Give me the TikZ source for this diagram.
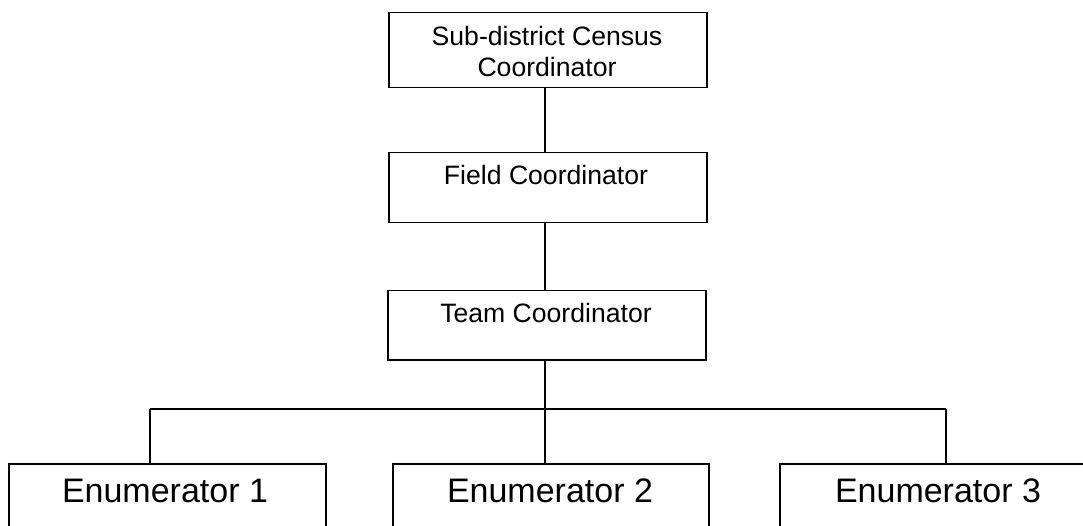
\documentclass[tikz,border=0pt]{standalone}
\usepackage{fontspec}
\setmainfont{Liberation Sans}
\begin{document}
\begin{tikzpicture}[x=1pt,y=-1pt,
  box/.style={draw=black, line width=1.5pt, rectangle, inner sep=0pt, anchor=north west},
  smalltxt/.style={anchor=base, inner sep=0pt, font=\fontsize{26.6}{31}\selectfont},
  bigtxt/.style={anchor=base, inner sep=0pt, font=\fontsize{34}{40}\selectfont},
  conn/.style={draw=black, line width=1.5pt}]
\useasboundingbox (0,0) rectangle (1083,526);
\clip (0,0) rectangle (1083,526);
% boxes
\node[box, minimum width=318pt, minimum height=75pt] (a) at (388,12) {};
\node[box, minimum width=318pt, minimum height=70pt] (b) at (388,152) {};
\node[box, minimum width=318pt, minimum height=69pt] (c) at (387,290) {};
\node[box, minimum width=317pt, minimum height=80pt] (e1) at (8,463) {};
\node[box, minimum width=316pt, minimum height=80pt] (e2) at (392,463) {};
\node[box, minimum width=318pt, minimum height=80pt] (e3) at (779,463) {};
% texts
\node[smalltxt] (ta1) at (547,46) {Sub-district Census};
\node[smalltxt] (ta2) at (547,77) {Coordinator};
\node[smalltxt] (tb) at (546,185) {Field Coordinator};
\node[smalltxt] (tc) at (546,323) {Team Coordinator};
\node[bigtxt] (te1) at (165,502) {Enumerator 1};
\node[bigtxt] (te2) at (550,502) {Enumerator 2};
\node[bigtxt] (te3) at (938,502) {Enumerator 3};
% connectors
\coordinate (bl) at (150,409);
\coordinate (bm) at (545,409);
\coordinate (br) at (946,409);
\draw[conn] (a.south -| bm) -- (b.north -| bm);
\draw[conn] (b.south -| bm) -- (c.north -| bm);
\draw[conn] (c.south -| bm) -- (bm);
\draw[conn] (bl) -- (br);
\draw[conn] (bl) -- (bl |- e1.north);
\draw[conn] (bm) -- (bm |- e2.north);
\draw[conn] (br) -- (br |- e3.north);
\end{tikzpicture}
\end{document}
